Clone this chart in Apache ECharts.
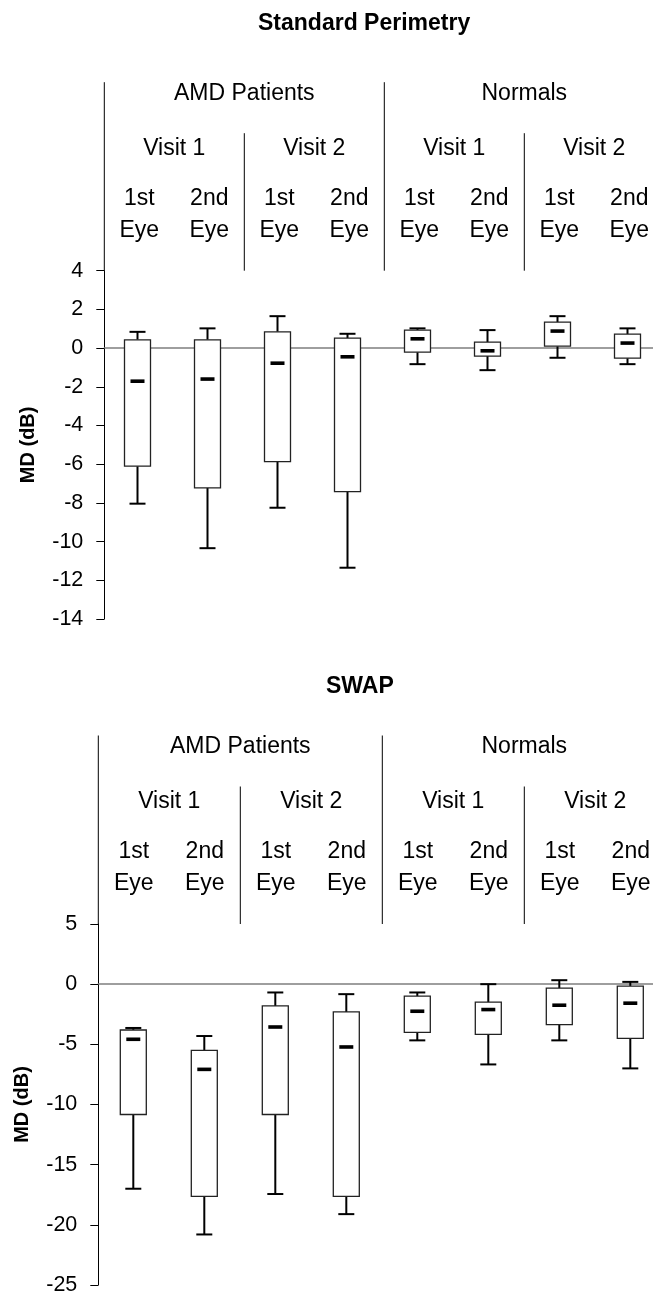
<!DOCTYPE html>
<html>
<head>
<meta charset="utf-8">
<script src="https://cdn.jsdelivr.net/npm/echarts@6/dist/echarts.min.js"></script>
<style>
html,body{margin:0;padding:0;background:#fff;}
#chart{width:653px;height:1292px;}
</style>
</head>
<body>
<div id="chart"></div>
<script>
// ---- data ----
const categories = ['1st Eye','2nd Eye','1st Eye','2nd Eye','1st Eye','2nd Eye','1st Eye','2nd Eye'];
const eyeLabels = ['1st','2nd','1st','2nd','1st','2nd','1st','2nd'];
const visitLabels = ['Visit 1','Visit 2','Visit 1','Visit 2'];
const groupLabels = ['AMD Patients','Normals'];

// Standard Perimetry MD (dB)
const stdLow  = [-8.04,-10.34,-8.25,-11.35,-0.83,-1.14,-0.50,-0.83];
const stdQ1   = [-6.10,-7.22,-5.87,-7.42,-0.21,-0.41,0.10,-0.52];
const stdMid  = [-1.71,-1.60,-0.78,-0.45,0.48,-0.14,0.88,0.26];
const stdQ3   = [0.43,0.43,0.84,0.52,0.93,0.31,1.34,0.72];
const stdHigh = [0.84,1.02,1.65,0.74,1.02,0.93,1.65,1.02];
const stdTicks = [4,2,0,-2,-4,-6,-8,-10,-12,-14];

// SWAP MD (dB)
const swapLow  = [-17.0,-20.8,-17.44,-19.11,-4.67,-6.67,-4.67,-7.0];
const swapQ1   = [-10.83,-17.64,-10.83,-17.64,-4.0,-4.17,-3.36,-4.5];
const swapMid  = [-4.58,-7.08,-3.56,-5.22,-2.25,-2.11,-1.75,-1.58];
const swapQ3   = [-3.81,-5.5,-1.81,-2.31,-1.0,-1.5,-0.33,-0.17];
const swapHigh = [-3.64,-4.31,-0.69,-0.83,-0.69,0,0.33,0.19];
const swapTicks = [5,0,-5,-10,-15,-20,-25];

// ---- styles ----
const FONT = "'Liberation Sans', Arial, sans-serif";
const BOX_W = 26, CAP_W = 16, DASH_W = 14, DASH_H = 3.6;
const HDR = { eye: -40.5, first: -72.5, visit: -122.5, group: -177.5, visitSepTop: -137.5, groupSepTop: -188.5 };
const HDR_FONT = '23px ' + FONT;

function rows(low,q1,mid,q3,high){
  return categories.map((c,i)=>[i, low[i], q1[i], mid[i], q3[i], high[i]]);
}

function makeBoxRender(shift){
  return function(params, api){
    const i = api.value(0);
    const lo = api.coord([i, api.value(1)]);
    const q1 = api.coord([i, api.value(2)]);
    const md = api.coord([i, api.value(3)]);
    const q3 = api.coord([i, api.value(4)]);
    const hi = api.coord([i, api.value(5)]);
    const cx = lo[0] + shift;
    const wl = {stroke:'#000', lineWidth:2};
    return {type:'group', children:[
      {type:'line', shape:{x1:cx,y1:q3[1],x2:cx,y2:hi[1]}, style:wl},
      {type:'line', shape:{x1:cx-CAP_W/2,y1:hi[1],x2:cx+CAP_W/2,y2:hi[1]}, style:wl},
      {type:'line', shape:{x1:cx,y1:q1[1],x2:cx,y2:lo[1]}, style:wl},
      {type:'line', shape:{x1:cx-CAP_W/2,y1:lo[1],x2:cx+CAP_W/2,y2:lo[1]}, style:wl},
      {type:'rect', shape:{x:cx-BOX_W/2, y:q3[1], width:BOX_W, height:q1[1]-q3[1]},
        style:{fill:'#fff', stroke:'#222', lineWidth:1.3}},
      {type:'rect', shape:{x:cx-DASH_W/2, y:md[1]-DASH_H/2, width:DASH_W, height:DASH_H},
        style:{fill:'#000'}}
    ]};
  };
}

function headerRender(params, api){
  const i = api.value(0);
  const p = api.coord([i, api.value(1)]);
  const band = api.size([1,0])[0];
  const cx = p[0], y0 = p[1];
  const left = cx - band/2;
  const ls = {stroke:'#000', lineWidth:1};
  const ts = (t,x,y)=>({type:'text', style:{text:t, x:x, y:y, textAlign:'center', textVerticalAlign:'middle', font:HDR_FONT, fill:'#000'}});
  const ch = [ts(eyeLabels[i], cx, y0+HDR.first), ts('Eye', cx, y0+HDR.eye)];
  if (i % 2 === 0) ch.push(ts(visitLabels[i/2], cx + band/2, y0+HDR.visit));
  if (i % 4 === 0) ch.push(ts(groupLabels[i/4], cx + band*1.5, y0+HDR.group));
  if (i % 4 === 0) {
    ch.push({type:'line', shape:{x1:left,y1:y0+HDR.groupSepTop,x2:left,y2:y0}, style:ls});
  } else if (i % 2 === 0) {
    ch.push({type:'line', shape:{x1:left,y1:y0+HDR.visitSepTop,x2:left,y2:y0}, style:ls});
  }
  return {type:'group', children:ch};
}

function yAxisCfg(grid, min, max, interval){
  return {
    type:'value', gridIndex:grid, min:min, max:max, interval:interval,
    name:'MD (dB)', nameLocation:'middle', nameRotate:90, nameGap:66,
    nameTextStyle:{fontFamily:FONT, fontSize:20, fontWeight:'bold', color:'#000'},
    axisLine:{show:true, lineStyle:{color:'#000', width:1}},
    axisTick:{show:true, length:8, lineStyle:{color:'#000', width:1}},
    axisLabel:{fontFamily:FONT, fontSize:21.5, color:'#000', margin:21},
    splitLine:{show:false}
  };
}
function xAxisCfg(grid){
  return {
    type:'category', gridIndex:grid, data:categories,
    axisLine:{show:true, onZero:true, lineStyle:{color:'#7f7f7f', width:1.5}},
    axisTick:{show:false}, axisLabel:{show:false}, splitLine:{show:false}
  };
}

const chart = echarts.init(document.getElementById('chart'), null, {renderer:'canvas'});
chart.setOption({
  animation:false,
  backgroundColor:'#fff',
  title:[
    {text:'Standard Perimetry', left:253, top:7, textStyle:{fontFamily:FONT, fontSize:23, fontWeight:'bold', color:'#000'}},
    {text:'SWAP', left:321, top:670, textStyle:{fontFamily:FONT, fontSize:23, fontWeight:'bold', color:'#000'}}
  ],
  grid:[
    {left:104.3, top:270.7, width:560, height:348.3, containLabel:false, outerBoundsMode:'none'},
    {left:98.3, top:924, width:568, height:361, containLabel:false, outerBoundsMode:'none'}
  ],
  xAxis:[xAxisCfg(0), xAxisCfg(1)],
  yAxis:[yAxisCfg(0, stdTicks[stdTicks.length-1], stdTicks[0], 2), yAxisCfg(1, swapTicks[swapTicks.length-1], swapTicks[0], 5)],
  series:[
    {type:'custom', xAxisIndex:0, yAxisIndex:0, silent:true, clip:false, renderItem:headerRender,
      data:categories.map((c,i)=>[i, stdTicks[0]])},
    {type:'custom', xAxisIndex:0, yAxisIndex:0, silent:true, clip:false, renderItem:makeBoxRender(-1.8),
      encode:{x:0, y:[1,2,3,4,5]}, data:rows(stdLow,stdQ1,stdMid,stdQ3,stdHigh)},
    {type:'custom', xAxisIndex:1, yAxisIndex:1, silent:true, clip:false, renderItem:headerRender,
      data:categories.map((c,i)=>[i, swapTicks[0]])},
    {type:'custom', xAxisIndex:1, yAxisIndex:1, silent:true, clip:false, renderItem:makeBoxRender(-0.5),
      encode:{x:0, y:[1,2,3,4,5]}, data:rows(swapLow,swapQ1,swapMid,swapQ3,swapHigh)}
  ]
});
</script>
</body>
</html>
